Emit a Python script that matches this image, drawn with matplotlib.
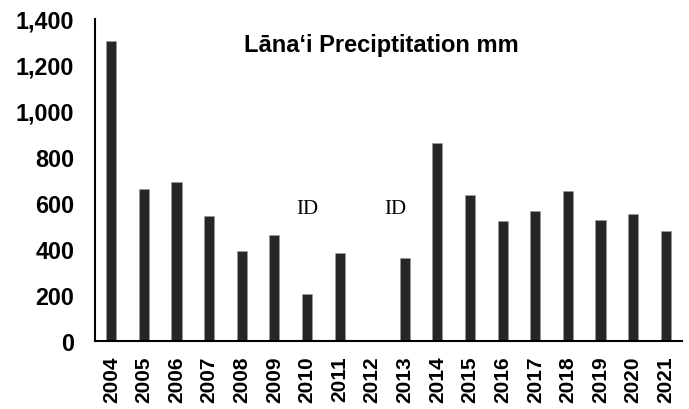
import matplotlib.pyplot as plt
import numpy as np

years = [str(y) for y in range(2004, 2022)]
precip = [1305, 661, 691, 543, 391, 461, 203, 383, np.nan, 361,
          861, 633, 522, 564, 652, 527, 553, 480]
id_years = ["2010", "2013"]
id_offsets = [0.0, -0.3]

plt.rcParams['font.family'] = ['Liberation Sans', 'DejaVu Sans']

fig = plt.figure(figsize=(6.89, 4.10), dpi=100)
ax = fig.add_axes([95 / 689, (410 - 342) / 410, (682 - 95) / 689, (342 - 20) / 410])

x = np.arange(len(years))
ax.bar(x, precip, width=0.31, color='#262626', edgecolor='#9a9a9a', linewidth=0.4)

ax.set_xlim(-0.5, len(years) - 0.5)
ax.set_ylim(0, 1400)
ax.set_yticks(np.arange(0, 1401, 200))
ax.set_yticklabels([f"{v:,}" for v in range(0, 1401, 200)], fontsize=16.8, fontweight='bold')
ax.set_xticks(x)
ax.set_xticklabels(years, rotation=90, fontsize=15, fontweight='bold')
ax.tick_params(axis='both', length=0)
ax.tick_params(axis='y', pad=15)
ax.tick_params(axis='x', pad=10.5)

for s in ['top', 'right']:
    ax.spines[s].set_visible(False)
for s in ['left', 'bottom']:
    ax.spines[s].set_linewidth(1.5)
    ax.spines[s].set_color('black')

for yr, off in zip(id_years, id_offsets):
    ax.text(years.index(yr) + off, 578, "ID", ha='center', va='center',
            fontsize=15, family='Liberation Serif')

ax.text(0.488, 0.92, "Lāna\u2018i Preciptitation mm", transform=ax.transAxes,
        ha='center', va='center', fontsize=17, fontweight='bold')

fig.savefig("out.png", dpi=100)
